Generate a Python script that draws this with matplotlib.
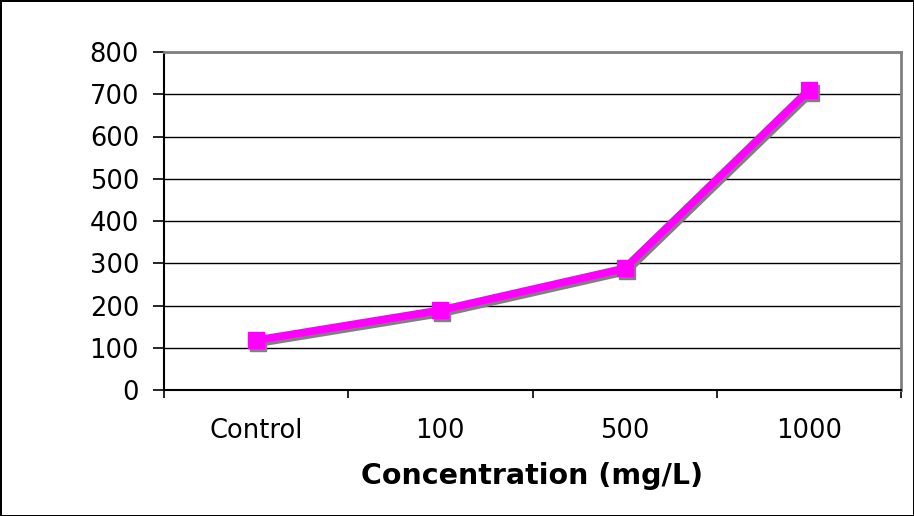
import numpy as np
import matplotlib
matplotlib.use("Agg")
import matplotlib.pyplot as plt
from matplotlib.transforms import ScaledTranslation

categories = ["Control", "100", "500", "1000"]
values = [118, 189, 288, 710]
y_ticks = [0, 100, 200, 300, 400, 500, 600, 700, 800]

plt.rcParams['font.family'] = ['Verdana', 'DejaVu Sans']

fig = plt.figure(figsize=(9.14, 5.16), dpi=100)
fig.patch.set_facecolor("white")
fig.patch.set_edgecolor("black")
fig.patch.set_linewidth(2)

ax = fig.add_axes([164/914, 1 - 390/516, (901 - 164)/914, (390 - 52)/516])

x = np.arange(len(categories))

# shadow line, shifted right/down by a few pixels
shadow = ax.transData + ScaledTranslation(2/100, -3/100, fig.dpi_scale_trans)
ax.plot(x, values, color="#808080", lw=5.5, marker="s", ms=11,
        solid_joinstyle="miter", transform=shadow, zorder=3)
ax.plot(x, values, color="#FF00FF", lw=5.5, marker="s", ms=11,
        solid_joinstyle="miter", zorder=4)

ax.set_xlim(-0.5, len(categories) - 0.5)
ax.set_ylim(0, 800)
ax.set_yticks(y_ticks)
ax.set_yticklabels([str(v) for v in y_ticks], fontsize=18.5)
ax.yaxis.grid(True, color="black", lw=1)
ax.set_axisbelow(True)

ax.set_xticks(np.arange(-0.5, len(categories), 1.0))
ax.set_xticklabels([])
ax.set_xticks(x, minor=True)
ax.set_xticklabels(categories, minor=True, fontsize=18.5)
ax.tick_params(axis="x", which="major", direction="out", length=6, width=1.2)
ax.tick_params(axis="x", which="minor", length=0, pad=20)
ax.tick_params(axis="y", direction="out", length=8, width=1.2, pad=10)

ax.spines["left"].set_linewidth(1.5)
ax.spines["bottom"].set_linewidth(1.5)
ax.spines["top"].set_color("#808080")
ax.spines["right"].set_color("#808080")
ax.spines["top"].set_linewidth(2)
ax.spines["right"].set_linewidth(2)

ax.set_xlabel("Concentration (mg/L)", fontsize=20.5, fontweight="bold", labelpad=13)

fig.savefig("out.png", dpi=100, edgecolor=fig.get_edgecolor())
